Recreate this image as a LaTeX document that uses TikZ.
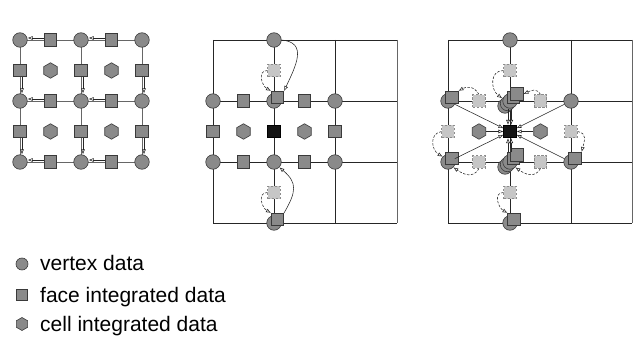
\documentclass[tikz,border=0pt]{standalone}
\usepackage{fontspec}
\setmainfont{Liberation Sans}
\usetikzlibrary{shapes.geometric,arrows.meta}
\definecolor{midg}{HTML}{8A8A8A}
\definecolor{lightg}{HTML}{C6C6C6}
\definecolor{edgeg}{HTML}{3A3A3A}
\begin{document}
\begin{tikzpicture}[x=1pt,y=-1pt,
  vtx/.style={circle,draw=edgeg,fill=midg,minimum size=14.5pt,inner sep=0pt,line width=0.6pt},
  fc/.style={rectangle,draw=edgeg,fill=midg,minimum size=12.5pt,inner sep=0pt,line width=0.6pt},
  lfc/.style={rectangle,draw=black!45,fill=lightg,dash pattern=on 2.5pt off 1.5pt,minimum size=12.5pt,inner sep=0pt,line width=0.6pt},
  cel/.style={regular polygon,regular polygon sides=6,regular polygon rotate=30,draw=edgeg,fill=midg,minimum size=15.5pt,inner sep=0pt,line width=0.6pt},
  blk/.style={rectangle,draw=black,fill=black!92,minimum size=12.5pt,inner sep=0pt,line width=0.6pt},
  gridl/.style={draw=black!85,line width=0.75pt},
  gridg/.style={draw=black!60,line width=0.75pt},
  arr/.style={-{Latex[open,length=5pt,width=4pt]},line width=0.55pt,draw=black!85},
  darr/.style={arr,dash pattern=on 2.5pt off 1.5pt},
  lbl/.style={anchor=base west,inner sep=0pt,font=\fontsize{21}{24}\selectfont}
]
\useasboundingbox (0,0) rectangle (635,345);

% ---------------- left panel ----------------
\foreach \x/\i in {20/1,81/2,142/3}
  \foreach \y/\j in {40/1,101/2,162/3}
    \coordinate (lc-\i-\j) at (\x,\y);
\foreach \j in {1,2,3} \draw[gridg] (lc-1-\j) -- (lc-3-\j);
\foreach \i in {1,2,3} \draw[gridg] (lc-\i-1) -- (lc-\i-3);
\foreach \i in {1,2,3}
  \foreach \j in {1,2,3}
    \node[vtx] (lv-\i-\j) at (lc-\i-\j) {};
\foreach \x/\i in {50.5/1,111.5/2}
  \foreach \y/\j in {40/1,101/2,162/3} {
    \node[fc] (lh-\i-\j) at (\x,\y) {};
    \draw[arr] ([yshift=2pt]lh-\i-\j.west) -- ([yshift=2pt]lv-\i-\j.east);
  }
\foreach \x/\i in {20/1,81/2,142/3}
  \foreach \y/\j/\jp in {70.5/1/2,131.5/2/3} {
    \node[fc] (lw-\i-\j) at (\x,\y) {};
    \draw[arr] ([xshift=2pt]lw-\i-\j.south) -- ([xshift=2pt]lv-\i-\jp.north);
  }
\foreach \x/\i in {50.5/1,111.5/2}
  \foreach \y/\j in {70.5/1,131.5/2}
    \node[cel] (lk-\i-\j) at (\x,\y) {};

% ---------------- middle panel ----------------
\foreach \x/\i in {213/1,274/2,335/3,397/4}
  \foreach \y/\j in {40/1,101/2,162/3,223/4}
    \coordinate (mc-\i-\j) at (\x,\y);
\foreach \j in {1,2,3,4} \draw[gridl] (mc-1-\j) -- (mc-4-\j);
\foreach \i in {1,2,3} \draw[gridl] (mc-\i-1) -- (mc-\i-4);
\draw[gridg] (mc-4-1) -- (mc-4-4);

\node[vtx] (mv-2-1) at (mc-2-1) {};
\node[vtx] (mv-1-2) at (mc-1-2) {};
\node[vtx] (mv-2-2) at (mc-2-2) {};
\node[vtx] (mv-3-2) at (mc-3-2) {};
\node[vtx] (mv-1-3) at (mc-1-3) {};
\node[vtx] (mv-2-3) at (mc-2-3) {};
\node[vtx] (mv-3-3) at (mc-3-3) {};
\node[vtx] (mv-2-4) at (mc-2-4) {};
\node[fc] (mh-1) at (243.5,101) {};
\node[fc] (mh-2) at (304.5,101) {};
\node[fc] (mh-3) at (243.5,162) {};
\node[fc] (mh-4) at (304.5,162) {};
\node[fc] (mw-1) at (213,131.5) {};
\node[fc] (mw-2) at (335,131.5) {};
\node[cel] (mk-1) at (243.5,131.5) {};
\node[cel] (mk-2) at (304.5,131.5) {};
\node[blk] (mb) at (274,131.5) {};
\node[lfc] (ml-1) at (274,70.5) {};
\node[lfc] (ml-2) at (274,192.5) {};
\node[fc] (ms-1) at (277.5,97.5) {};
\node[fc] (ms-2) at (277.5,219.5) {};

\draw[arr] (mv-2-1.east) to[out=-5,in=65,looseness=1.35] (ms-1.north east);
\draw[darr] (ml-1.west) to[out=180,in=150,looseness=1.3] (ms-1.north west);
\draw[arr] (ms-2.north east) to[out=60,in=-40,looseness=1.35] (mv-2-3.south east);
\draw[darr] (ml-2.west) to[out=180,in=150,looseness=1.3] (ms-2.north west);

% ---------------- right panel ----------------
\foreach \x/\i in {448/1,510/2,571/3,632/4}
  \foreach \y/\j in {40/1,101/2,162/3,223/4}
    \coordinate (rc-\i-\j) at (\x,\y);
\foreach \j in {1,2,3,4} \draw[gridl] (rc-1-\j) -- (rc-4-\j);
\foreach \i in {1,2,3} \draw[gridl] (rc-\i-1) -- (rc-\i-4);
\draw[gridg] (rc-4-1) -- (rc-4-4);

\node[lfc] (rl-1) at (510,70.5) {};
\node[lfc] (rl-2) at (479,101) {};
\node[lfc] (rl-3) at (540.5,101) {};
\node[lfc] (rl-4) at (448,131.5) {};
\node[lfc] (rl-5) at (571,131.5) {};
\node[lfc] (rl-6) at (479,162) {};
\node[lfc] (rl-7) at (540.5,162) {};
\node[lfc] (rl-8) at (510,192.5) {};
\node[cel] (rk-1) at (479,131.5) {};
\node[cel] (rk-2) at (540.5,131.5) {};
\node[blk] (rb) at (510,131.5) {};

\node[vtx] (rv-t) at (rc-2-1) {};
\node[vtx] (rv-r) at (rc-3-2) {};
\node[vtx] (rv-a) at (rc-1-2) {};
\node[fc] (rs-a) at (452,97.5) {};
\node[vtx] (rv-b) at (rc-1-3) {};
\node[fc] (rs-b) at (452,158.5) {};
\node[vtx] (rv-c) at (rc-3-3) {};
\node[fc] (rs-c) at (575,158.5) {};
\node[vtx] (rv-d) at (rc-2-4) {};
\node[fc] (rs-d) at (514,219.5) {};
\node[vtx] (ru-1) at (505,106) {};
\node[vtx] (ru-2) at (507.5,103.5) {};
\node[vtx] (ru-3) at (rc-2-2) {};
\node[fc] (rus-1) at (513.5,97.5) {};
\node[fc] (rus-2) at (517,94) {};
\node[vtx] (rd-1) at (505,167) {};
\node[vtx] (rd-2) at (507.5,164.5) {};
\node[vtx] (rd-3) at (rc-2-3) {};
\node[fc] (rds-1) at (513.5,158.5) {};
\node[fc] (rds-2) at (517,155) {};

\draw[arr] (rv-a) -- (rb);
\draw[arr] (rv-r) -- (rb);
\draw[arr] (rv-b) -- (rb);
\draw[arr] (rv-c) -- (rb);
\draw[arr] (rk-1) -- (rb);
\draw[arr] (rk-2) -- (rb);
\draw[arr] ([xshift=-2pt]ru-3.south) -- ([xshift=-2pt]rb.north);
\draw[arr] ([xshift=1.2pt]ru-3.south) -- ([xshift=1.2pt]rb.north);
\draw[arr] ([xshift=-2pt,yshift=2pt]rd-3.north) -- ([xshift=-2pt]rb.south);
\draw[arr] ([xshift=1.2pt,yshift=2pt]rd-3.north) -- ([xshift=1.2pt]rb.south);

\draw[darr] (rl-1.west) to[out=180,in=145,looseness=1.3] (ru-2.north west);
\draw[darr] (rl-2.north) to[out=120,in=30,looseness=1.2] (rs-a.north east);
\draw[darr] (rl-3.north) to[out=120,in=25,looseness=1.2] (rus-2.east);
\draw[darr] (rl-4.west) to[out=190,in=150,looseness=1.3] (rv-b.north west);
\draw[darr] (rl-5.east) to[out=-10,in=75,looseness=1.3] (rs-c.north east);
\draw[darr] (rl-6.south) to[out=-120,in=-35,looseness=1.2] (rv-b.south east);
\draw[darr] (rl-7.south) to[out=-120,in=-35,looseness=1.2] (rd-3.south east);
\draw[darr] (rl-8.west) to[out=180,in=150,looseness=1.3] (rs-d.north west);

% ---------------- legend ----------------
\node[vtx,minimum size=12pt] (lg-1) at (22,264) {};
\node[lbl] (lt-1) at (40,270) {vertex data};
\node[fc,minimum size=11pt] (lg-2) at (22,295) {};
\node[lbl] (lt-2) at (40,302) {face integrated data};
\node[cel,minimum size=13pt] (lg-3) at (22,324) {};
\node[lbl] (lt-3) at (40,331) {cell integrated data};
\end{tikzpicture}
\end{document}
